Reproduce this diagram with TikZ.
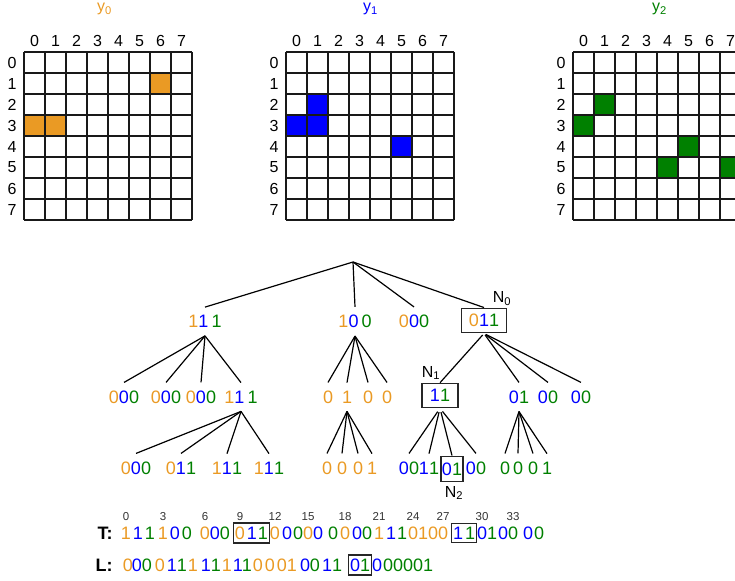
\documentclass[tikz,border=0pt]{standalone}
\usepackage{fontspec}
\setmainfont{Liberation Sans}
\usetikzlibrary{positioning}
\usetikzlibrary{fit}

\definecolor{yzero}{RGB}{234,154,36}
\definecolor{yone}{RGB}{0,0,255}
\definecolor{ytwo}{RGB}{0,128,0}

\newcommand{\bitA}[1]{\textcolor{yzero}{#1}}
\newcommand{\bitB}[1]{\textcolor{yone}{#1}}
\newcommand{\bitC}[1]{\textcolor{ytwo}{#1}}

\begin{document}
\begin{tikzpicture}
  [
    x=1pt, y=-1pt,
    every node/.style={font=\fontsize{18}{21}\selectfont},
    tnode/.style  = {inner xsep=0pt, inner ysep=8pt},
    tbox/.style   = {draw=black!85, line width=1.2pt, inner ysep=6pt},
    tag/.style    = {font=\fontsize{16}{19}\selectfont, inner sep=0pt},
    edge/.style   = {line width=1.2pt},
    cellline/.style = {line width=1.2pt, draw=black!90},
    axislbl/.style  = {font=\fontsize{16}{19}\selectfont, inner sep=0pt},
    bit/.style    = {inner sep=0pt},
    idx/.style    = {font=\fontsize{11.5}{13}\selectfont, text=black!80, inner sep=0pt},
    seqlbl/.style = {inner sep=0pt, font=\fontsize{18}{21}\selectfont\bfseries},
  ]

  \clip (0,0) rectangle (735,580);

  % the three grids
  \def\cell{21}
  \foreach \gx/\c/\r/\clr in {24/6/1/yzero, 24/0/3/yzero, 24/1/3/yzero,
                              286/1/2/yone, 286/0/3/yone, 286/1/3/yone, 286/5/4/yone,
                              573/1/2/ytwo, 573/0/3/ytwo, 573/5/4/ytwo, 573/4/5/ytwo, 573/7/5/ytwo}
    \fill[\clr] (\gx+\c*\cell, 52+\r*\cell) rectangle ++(\cell,\cell);

  \foreach \gx/\clr/\gi/\tx in {24/yzero/0/104.5, 286/yone/1/370.5, 573/ytwo/2/659.5}
  {
    \foreach \m in {0,...,8}
    {
      \draw[cellline] (\gx+\m*\cell,52) -- (\gx+\m*\cell,220);
      \draw[cellline] (\gx,52+\m*\cell) -- (\gx+168,52+\m*\cell);
    }
    \foreach \m in {0,...,7}
    {
      \node (col\gi\m) at (\gx+\m*\cell+10.5,41) [axislbl] {\m};
      \node (row\gi\m) at (\gx-12,62.5+\m*\cell) [axislbl] {\m};
    }
    \node (title\gi) at (\tx,11.5) [axislbl, anchor=base, text=\clr] {y\textsubscript{\gi}};
  }

  % the tree
  \coordinate (root) at (353,262);

  \node (a) at (205,321.5) [tnode] {\bitA{1}\bitB{1}\hspace{3pt}\bitC{1}};
  \node (b) at (355,321.5) [tnode] {\bitA{1}\bitB{0}\hspace{3pt}\bitC{0}};
  \node (c) at (414,321.5) [tnode] {\bitA{0}\bitB{0}\bitC{0}};
  \node (d) at (484,320.5) [tnode, tbox, inner xsep=7.5pt] {\bitA{0}\bitB{1}\bitC{1}};
  \node (tagN0) at (502,298.5) [tag] {N\textsubscript{0}};

  \foreach \ch in {a,b,c,d}
    \draw[edge] (root) -- (\ch.north);

  \node (aa) at (124,397) [tnode] {\bitA{0}\bitB{0}\bitC{0}};
  \node (ab) at (166,397) [tnode] {\bitA{0}\bitB{0}\bitC{0}};
  \node (ac) at (201,397) [tnode] {\bitA{0}\bitB{0}\bitC{0}};
  \node (ad) at (241,397) [tnode] {\bitA{1}\bitB{1}\hspace{3pt}\bitC{1}};
  \node (ba) at (328,397) [tnode] {\bitA{0}};
  \node (bb) at (347,397) [tnode] {\bitA{1}};
  \node (bc) at (368,397) [tnode] {\bitA{0}};
  \node (bd) at (387,397) [tnode] {\bitA{0}};
  \node (da) at (440,395.5) [tnode, tbox, inner xsep=8pt] {\bitB{1}\bitC{1}};
  \node (tagN1) at (431,373) [tag] {N\textsubscript{1}};
  \node (db) at (519,397) [tnode] {\bitB{0}\bitC{1}};
  \node (dc) at (548,397) [tnode] {\bitB{0}\bitC{0}};
  \node (dd) at (581,397) [tnode] {\bitB{0}\bitC{0}};

  \foreach \p/\ch in {a/aa,a/ab,a/ac,a/ad,b/ba,b/bb,b/bc,b/bd}
    \draw[edge] (\p.south) -- (\ch.north);
  \foreach \ch in {da,db,dc,dd}
    \draw[edge, shorten <=2pt] (d.south) -- (\ch.north);

  \node (ada) at (136,468) [tnode] {\bitA{0}\bitB{0}\bitC{0}};
  \node (adb) at (181,468) [tnode] {\bitA{0}\bitB{1}\bitC{1}};
  \node (adc) at (227,468) [tnode] {\bitA{1}\bitB{1}\bitC{1}};
  \node (add) at (269,468) [tnode] {\bitA{1}\bitB{1}\bitC{1}};
  \node (bba) at (327,468) [tnode] {\bitA{0}};
  \node (bbb) at (342,468) [tnode] {\bitA{0}};
  \node (bbc) at (358,468) [tnode] {\bitA{0}};
  \node (bbd) at (372,468) [tnode] {\bitA{1}};
  \node (daa) at (409,468) [tnode] {\bitB{0}\bitC{0}};
  \node (dab) at (429,468) [tnode] {\bitB{1}\bitC{1}};
  \node (dac) at (452,469) [tnode, tbox, inner xsep=1pt, inner ysep=6.5pt] {\bitB{0}\bitC{1}};
  \node (tagN2) at (454,493) [tag] {N\textsubscript{2}};
  \node (dad) at (476,468) [tnode] {\bitB{0}\bitC{0}};
  \node (dba) at (505,468) [tnode] {\bitC{0}};
  \node (dbb) at (518,468) [tnode] {\bitC{0}};
  \node (dbc) at (533,468) [tnode] {\bitC{0}};
  \node (dbd) at (547,468) [tnode] {\bitC{1}};

  \foreach \p/\ch in {ad/ada,ad/adb,ad/adc,ad/add,bb/bba,bb/bbb,bb/bbc,bb/bbd,
                      db/dba,db/dbb,db/dbc,db/dbd}
    \draw[edge] (\p.south) -- (\ch.north);
  \foreach \ch in {daa,dab,dac,dad}
    \draw[edge, shorten <=4pt] (da.south) -- (\ch.north);

  % T and L bitmaps
  \foreach \i/\x/\v/\clr in {0/126/1/yzero, 1/138/1/yone, 2/150/1/ytwo, 3/163/1/yzero,
      4/175/0/yone, 5/187/0/ytwo, 6/205/0/yzero, 7/215/0/yone, 8/225/0/ytwo,
      9/240/0/yzero, 10/252/1/yone, 11/263/1/ytwo, 12/275/0/yzero, 13/287/0/yone,
      14/298/0/ytwo, 15/308/0/yzero, 16/318/0/yone, 17/333/0/ytwo, 18/345/0/yzero,
      19/357/0/yone, 20/367/0/ytwo, 21/379/1/yzero, 22/391/1/yone, 23/402/1/ytwo,
      24/413/0/yzero, 25/423/1/yzero, 26/433/0/yzero, 27/443/0/yzero,
      28/458/1/yone, 29/470/1/ytwo, 30/482/0/yone, 31/492/1/ytwo,
      32/503/0/yone, 33/513/0/ytwo, 34/528/0/yone, 35/539/0/ytwo}
    \node (t\i) at (\x,533) [bit, text=\clr] {\v};
  \node (tlab) [seqlbl, left=8pt of t0] {T:};
  \foreach \i in {0,3,...,33}
    \node (ti\i) [idx, above=6pt of t\i] {\i};
  \node (markT0) [fit=(t9)(t11), draw=black!85, line width=1.2pt, inner xsep=1.5pt, inner ysep=3.5pt] {};
  \node (markT1) [fit=(t28)(t29), draw=black!85, line width=1.2pt, inner xsep=1.5pt, inner ysep=3.5pt] {};

  \foreach \i/\x/\v/\clr in {0/128/0/yzero, 1/137/0/yone, 2/147/0/ytwo, 3/160/0/yzero,
      4/172/1/yone, 5/182/1/ytwo, 6/193/1/yzero, 7/206/1/yone, 8/216/1/ytwo,
      9/227/1/yzero, 10/238/1/yone, 11/247/1/ytwo, 12/258/0/yzero, 13/270/0/yzero,
      14/282/0/yzero, 15/292/1/yzero, 16/305/0/yone, 17/315/0/ytwo, 18/327/1/yone,
      19/337/1/ytwo, 20/355/0/yone, 21/365/1/ytwo, 22/377/0/yone, 23/388/0/ytwo,
      24/398/0/ytwo, 25/408/0/ytwo, 26/418/0/ytwo, 27/428/1/ytwo}
    \node (l\i) at (\x,565) [bit, text=\clr] {\v};
  \node (llab) [seqlbl, left=10pt of l0] {L:};
  \node (markL0) [fit=(l20)(l21), draw=black!85, line width=1.2pt, inner xsep=1.5pt, inner ysep=3.5pt] {};

\end{tikzpicture}
\end{document}
